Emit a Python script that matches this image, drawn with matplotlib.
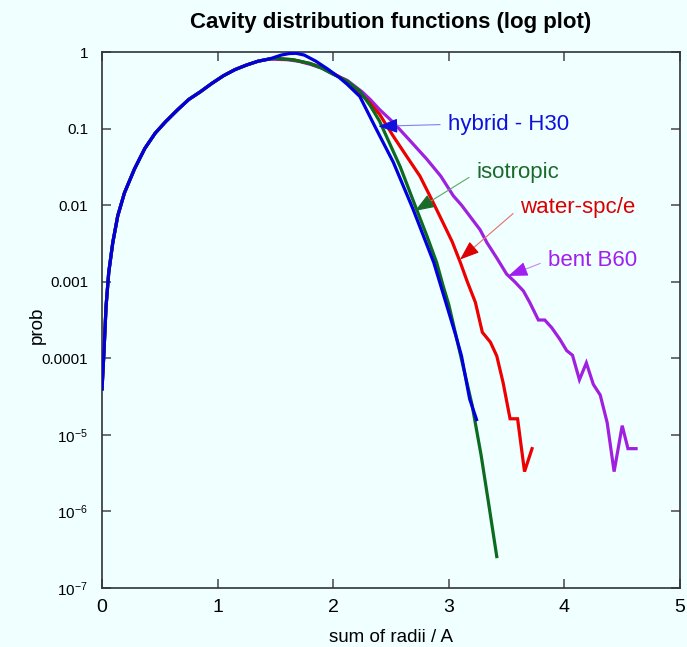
import numpy as np
import matplotlib
matplotlib.use("Agg")
import matplotlib.pyplot as plt

plt.rcParams['font.family'] = ['Liberation Sans', 'DejaVu Sans']
plt.rcParams['mathtext.fontset'] = 'custom'
plt.rcParams['mathtext.rm'] = 'Liberation Sans'
plt.rcParams['mathtext.it'] = 'Liberation Sans'

# ---- data (x = sum of radii, values are log10(prob)) ----
rise_x = [0.0, 0.015, 0.035, 0.058, 0.093, 0.136, 0.194, 0.28, 0.37, 0.46,
          0.55, 0.65, 0.75, 0.85, 0.95, 1.05, 1.15, 1.25, 1.35, 1.45]
rise_log = [-4.40, -3.97, -3.32, -2.88, -2.49, -2.14, -1.84, -1.53, -1.26, -1.06,
            -0.91, -0.76, -0.62, -0.52, -0.41, -0.31, -0.23, -0.17, -0.12, -0.09]

hybrid_x = [1.55, 1.62, 1.68, 1.75, 1.85, 1.95, 2.05, 2.12, 2.23, 2.36, 2.52,
            2.69, 2.87, 2.94, 3.01, 3.06, 3.11, 3.18, 3.24]
hybrid_log = [-0.04, -0.02, -0.017, -0.04, -0.12, -0.22, -0.33, -0.42, -0.58, -0.97, -1.44,
              -2.05, -2.75, -3.10, -3.45, -3.70, -3.97, -4.53, -4.80]

iso_x = [1.5, 1.65, 1.8, 1.9, 2.0, 2.12, 2.23, 2.32, 2.40, 2.49, 2.58, 2.72,
         2.81, 2.895, 2.95, 3.0, 3.1, 3.2, 3.28, 3.35, 3.415]
iso_log = [-0.083, -0.10, -0.15, -0.21, -0.29, -0.38, -0.51, -0.70, -0.90, -1.20, -1.50, -2.05,
           -2.40, -2.75, -3.05, -3.30, -3.95, -4.60, -5.27, -5.95, -6.59]

water_x = [1.5, 1.65, 1.8, 1.9, 2.0, 2.12, 2.2, 2.29, 2.40, 2.52, 2.63, 2.75,
           2.85, 2.95, 3.03, 3.10, 3.16, 3.23, 3.29, 3.36, 3.415, 3.47, 3.53,
           3.595, 3.655, 3.72]
water_log = [-0.085, -0.10, -0.15, -0.20, -0.28, -0.38, -0.50, -0.62, -0.81, -1.10, -1.35, -1.62,
             -1.92, -2.23, -2.48, -2.75, -3.00, -3.27, -3.66, -3.79, -3.97, -4.32, -4.79,
             -4.79, -5.48, -5.18]

bent_x = [1.5, 1.6, 1.7, 1.8, 1.9, 2.0, 2.12, 2.25, 2.32, 2.40, 2.52, 2.66, 2.81,
          2.93, 3.04, 3.11, 3.18, 3.27, 3.33, 3.415, 3.50, 3.57, 3.645, 3.70, 3.775,
          3.83, 3.89, 3.96, 4.02, 4.07, 4.13, 4.19, 4.25, 4.31, 4.37, 4.43, 4.50,
          4.55, 4.62]
bent_log = [-0.095, -0.10, -0.12, -0.16, -0.21, -0.29, -0.37, -0.52, -0.62, -0.75, -0.92, -1.15, -1.40,
            -1.62, -1.88, -2.00, -2.14, -2.32, -2.49, -2.69, -2.90, -3.00, -3.12, -3.27, -3.50,
            -3.50, -3.60, -3.75, -3.90, -3.96, -4.28, -4.06, -4.34, -4.48, -4.84, -5.48, -4.88,
            -5.18, -5.18]

series = [
    ("hybrid - H30", hybrid_x, hybrid_log, "#0000dd"),
    ("isotropic", iso_x, iso_log, "#0b6b1e"),
    ("water-spc/e", water_x, water_log, "#ee0000"),
    ("bent B60", bent_x, bent_log, "#a020e0"),
]
draw_order = ["bent B60", "water-spc/e", "isotropic", "hybrid - H30"]

# annotation: label -> (text x, text log y, head x, head log y, text colour, line colour)
annots = {
    "hybrid - H30": (2.997, -0.945, 2.39, -0.97, "#1010dd", "#8a7cf4"),
    "isotropic": (3.24, -1.577, 2.707, -2.076, "#1a6b2a", "#5ea865"),
    "water-spc/e": (3.617, -2.03, 3.097, -2.71, "#dd0000", "#e57070"),
    "bent B60": (3.86, -2.72, 3.515, -2.924, "#a020f0", "#c888f4"),
}

bg = "#f0ffff"
fig = plt.figure(figsize=(6.87, 6.47), dpi=100, facecolor=bg)
ax = fig.add_axes([0.1485, 0.0912, 0.8413, 0.8284], facecolor=bg)

order = {s[0]: s for s in series}
for name in draw_order:
    _, xs, ls, col = order[name]
    x = np.array(rise_x + list(xs))
    y = 10.0 ** np.array(rise_log + list(ls))
    ax.plot(x, y, color=col, lw=2.3, solid_joinstyle='miter', zorder=3)

for name, (tx, tl, hx, hl, tcol, lcol) in annots.items():
    # thin light connector from label to curve
    ax.annotate(name, xy=(hx, 10 ** hl), xytext=(tx, 10 ** tl),
                fontsize=16, color=tcol, ha='left', va='center', zorder=5,
                arrowprops=dict(arrowstyle='-', color=lcol, lw=0.8,
                                shrinkA=4, shrinkB=2, relpos=(0, 0.5)))
    # solid arrow head at the curve
    bx = hx + 0.12 * (tx - hx)
    bl = hl + 0.12 * (tl - hl)
    ax.annotate('', xy=(hx, 10 ** hl), xytext=(bx, 10 ** bl), zorder=6,
                arrowprops=dict(arrowstyle='-|>,head_length=0.75,head_width=0.28',
                                color=tcol, lw=0.8, shrinkA=0, shrinkB=0,
                                mutation_scale=16))

ax.set_yscale('log')
ax.set_xlim(0, 5)
ax.set_ylim(1e-7, 1)
ax.set_xticks([0, 1, 2, 3, 4, 5])
ax.set_xticklabels(['0', '1', '2', '3', '4', '5'])
yt = [1e-7, 1e-6, 1e-5, 1e-4, 1e-3, 1e-2, 1e-1, 1]
ylabels = [r'$10^{-7}$', r'$10^{-6}$', r'$10^{-5}$', '0.0001', '0.001', '0.01', '0.1', '1']
ax.set_yticks(yt)
ax.set_yticklabels(ylabels)
ax.yaxis.set_minor_locator(matplotlib.ticker.NullLocator())

ax.tick_params(axis='both', which='major', direction='in', length=6.5, width=1.2,
               color='#555555', top=True, right=True)
ax.tick_params(axis='x', labelsize=14, pad=8)
ax.tick_params(axis='y', labelsize=11, pad=10)
for s in ax.spines.values():
    s.set_color('#333333')
    s.set_linewidth(1.2)

ax.set_xlabel('sum of radii / A', fontsize=13.5, labelpad=9.5)
ax.set_ylabel('prob', fontsize=13.5)
ax.yaxis.set_label_coords(-0.097, 0.49)
ax.set_title('Cavity distribution functions (log plot)', fontsize=16, fontweight='bold', pad=17.5)

fig.savefig('out.png', dpi=100, facecolor=bg)
